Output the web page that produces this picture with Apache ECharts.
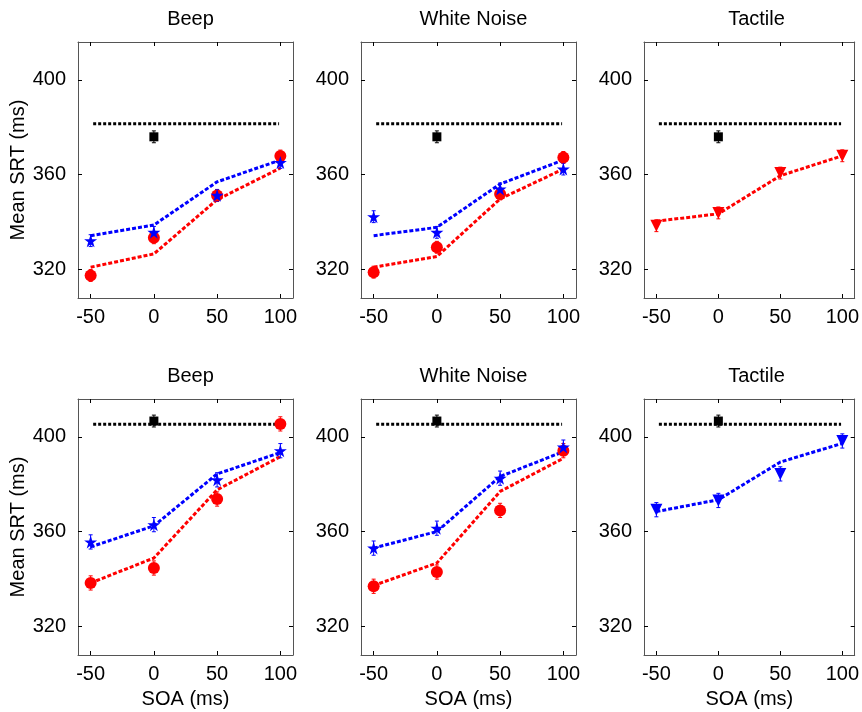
<!DOCTYPE html>
<html>
<head>
<meta charset="utf-8">
<script src="https://cdn.jsdelivr.net/npm/echarts@6/dist/echarts.min.js"></script>
<style>
  body { margin: 0; background: #fff; }
  #main { width: 862px; height: 712px; }
</style>
</head>
<body>
<div id="main"></div>
<script>
// SOA values (x) and tick labels
const soa = [-50, 0, 50, 100];
const xTicks = [-50, 0, 50, 100];
const yTicks = [320, 360, 400];
const panelTitles = ['Beep', 'White Noise', 'Tactile'];

// unimodal baseline (dotted line) and unimodal mean (square at SOA 0)
const baselineX = [-48, 99];
const baselineTop = 381.5;
const baselineBottom = 405.3;
const unimodalTop = 376;
const unimodalBottom = 406.7;

// top row: observed means (markers) and model fit (dashed lines)
const beepTopRedObs = [317.5, 333.4, 351.2, 367.9];
const beepTopRedFit = [321, 326.6, 349.5, 362.8];
const beepTopBlueObs = [332.2, 335.7, 351.3, 365.2];
const beepTopBlueFit = [334.3, 338.8, 357, 366.2];
const noiseTopRedObs = [318.9, 329.4, 351.9, 367.3];
const noiseTopRedFit = [321, 325.5, 349.8, 362.4];
const noiseTopBlueObs = [342.3, 335.7, 354, 362.4];
const noiseTopBlueFit = [334.3, 337.8, 356.1, 366.2];
const tactTopRedObs = [338.5, 343.9, 360.7, 368];
const tactTopRedFit = [340.4, 343.5, 359.6, 368];

// bottom row
const beepBotRedObs = [338.4, 344.7, 373.8, 405.5];
const beepBotRedFit = [338.4, 348.9, 377.7, 391.7];
const beepBotBlueObs = [355.7, 363, 381.9, 394.2];
const beepBotBlueFit = [353.6, 362.5, 384.4, 393.4];
const noiseBotRedObs = [337, 343, 369, 394.2];
const noiseBotRedFit = [337.3, 346.8, 377, 391];
const noiseBotBlueObs = [353.1, 361.5, 382.6, 395.7];
const noiseBotBlueFit = [353.1, 360.1, 383.3, 393.8];
const tactBotBlueObs = [369.3, 373.2, 384.4, 398.3];
const tactBotBlueFit = [368.5, 373.5, 389.4, 397.3];

// standard errors (error bars)
const errTop = [2.5, 2.5, 2.5, 2.5];
const errBottom = [3, 3, 3, 3];
const errUnimodal = 2.5;

const RED = '#ff0000', BLUE = '#0000ff';
const STAR = 'path://M50,0 L61,35 L98,35 L68,57 L79,91 L50,70 L21,91 L32,57 L2,35 L39,35 Z';
const FONT = 'Liberation Sans';
const FS = 20;

const plotLeft = [78, 361, 644];
const plotTop = [42, 399];
const plotW = 215, plotH = 256;

const panels = [
  { row: 0, col: 0, base: baselineTop, uni: unimodalTop, err: errTop, groups: [
    { color: RED, symbol: 'circle', size: 12, obs: beepTopRedObs, fit: beepTopRedFit },
    { color: BLUE, symbol: STAR, size: 13, obs: beepTopBlueObs, fit: beepTopBlueFit }] },
  { row: 0, col: 1, base: baselineTop, uni: unimodalTop, err: errTop, groups: [
    { color: RED, symbol: 'circle', size: 12, obs: noiseTopRedObs, fit: noiseTopRedFit },
    { color: BLUE, symbol: STAR, size: 13, obs: noiseTopBlueObs, fit: noiseTopBlueFit }] },
  { row: 0, col: 2, base: baselineTop, uni: unimodalTop, err: errTop, groups: [
    { color: RED, symbol: 'triangle', rotate: 180, size: 12, obs: tactTopRedObs, fit: tactTopRedFit }] },
  { row: 1, col: 0, base: baselineBottom, uni: unimodalBottom, err: errBottom, groups: [
    { color: RED, symbol: 'circle', size: 12, obs: beepBotRedObs, fit: beepBotRedFit },
    { color: BLUE, symbol: STAR, size: 13, obs: beepBotBlueObs, fit: beepBotBlueFit }] },
  { row: 1, col: 1, base: baselineBottom, uni: unimodalBottom, err: errBottom, groups: [
    { color: RED, symbol: 'circle', size: 12, obs: noiseBotRedObs, fit: noiseBotRedFit },
    { color: BLUE, symbol: STAR, size: 13, obs: noiseBotBlueObs, fit: noiseBotBlueFit }] },
  { row: 1, col: 2, base: baselineBottom, uni: unimodalBottom, err: errBottom, groups: [
    { color: BLUE, symbol: 'triangle', rotate: 180, size: 12, obs: tactBotBlueObs, fit: tactBotBlueFit }] }
];

function errorBars(color) {
  return function (params, api) {
    const x = api.value(0), y = api.value(1), e = api.value(2);
    const hi = api.coord([x, y + e]);
    const lo = api.coord([x, y - e]);
    const st = { stroke: color, lineWidth: 1 };
    return {
      type: 'group',
      children: [
        { type: 'line', shape: { x1: hi[0], y1: hi[1], x2: lo[0], y2: lo[1] }, style: st },
        { type: 'line', shape: { x1: hi[0] - 2, y1: hi[1], x2: hi[0] + 2, y2: hi[1] }, style: st },
        { type: 'line', shape: { x1: lo[0] - 2, y1: lo[1], x2: lo[0] + 2, y2: lo[1] }, style: st }
      ]
    };
  };
}

const frameColor = '#555';
const grid = [], xAxis = [], yAxis = [], series = [], title = [];

panels.forEach((p, i) => {
  const left = plotLeft[p.col], top = plotTop[p.row];
  grid.push({ left: left, top: top, width: plotW, height: plotH, show: false });
  title.push({
    text: panelTitles[p.col],
    left: left + plotW / 2, top: top - 38, textAlign: 'center',
    textStyle: { fontFamily: FONT, fontSize: FS, fontWeight: 'normal', color: '#000' }
  });
  const xa = {
    type: 'value', gridIndex: i, min: -60, max: 110,
    splitLine: { show: false },
    axisLine: { show: true, onZero: false, lineStyle: { color: frameColor, width: 1 } },
    axisTick: { show: true, inside: true, length: 4, customValues: xTicks, lineStyle: { color: '#000' } }
  };
  xAxis.push(Object.assign({}, xa, {
    position: 'bottom',
    name: p.row === 1 ? 'SOA (ms)' : '',
    nameLocation: 'middle', nameGap: 34,
    nameTextStyle: { fontFamily: FONT, fontSize: FS, color: '#000' },
    axisLabel: { show: true, customValues: xTicks, margin: 9, fontFamily: FONT, fontSize: FS, color: '#000' }
  }));
  xAxis.push(Object.assign({}, xa, { position: 'top', axisLabel: { show: false } }));
  const ya = {
    type: 'value', gridIndex: i, min: 308, max: 416,
    splitLine: { show: false },
    axisLine: { show: true, onZero: false, lineStyle: { color: frameColor, width: 1 } },
    axisTick: { show: true, inside: true, length: 4, customValues: yTicks, lineStyle: { color: '#000' } }
  };
  yAxis.push(Object.assign({}, ya, {
    position: 'left',
    name: p.col === 0 ? 'Mean SRT (ms)' : '',
    nameLocation: 'middle', nameGap: 48, nameRotate: 90,
    nameTextStyle: { fontFamily: FONT, fontSize: FS, color: '#000' },
    axisLabel: { show: true, customValues: yTicks, margin: 12, fontFamily: FONT, fontSize: FS, color: '#000' }
  }));
  yAxis.push(Object.assign({}, ya, { position: 'right', axisLabel: { show: false } }));

  const xi = i * 2, yi = i * 2;
  // baseline dotted line
  series.push({
    type: 'line', xAxisIndex: xi, yAxisIndex: yi, showSymbol: false, silent: true,
    data: baselineX.map(x => [x, p.base]),
    lineStyle: { color: '#000', width: 3, type: [3, 2] }
  });
  // unimodal mean
  series.push({
    type: 'custom', xAxisIndex: xi, yAxisIndex: yi, renderItem: errorBars('#000'),
    data: [[0, p.uni, errUnimodal]], z: 3
  });
  series.push({
    type: 'scatter', xAxisIndex: xi, yAxisIndex: yi, symbol: 'rect', symbolSize: 9,
    itemStyle: { color: '#000', opacity: 1 }, data: [[0, p.uni]], z: 4
  });
  p.groups.forEach(g => {
    series.push({
      type: 'line', xAxisIndex: xi, yAxisIndex: yi, showSymbol: false, silent: true,
      data: soa.map((x, k) => [x, g.fit[k]]),
      lineStyle: { color: g.color, width: 3, type: [4, 2] }, z: 2
    });
    series.push({
      type: 'custom', xAxisIndex: xi, yAxisIndex: yi, renderItem: errorBars(g.color),
      data: soa.map((x, k) => [x, g.obs[k], p.err[k]]), z: 3
    });
    series.push({
      type: 'scatter', xAxisIndex: xi, yAxisIndex: yi, symbol: g.symbol, symbolSize: g.size,
      symbolRotate: g.rotate || 0,
      itemStyle: { color: g.color, opacity: 1 }, data: soa.map((x, k) => [x, g.obs[k]]), z: 4
    });
  });
});

const chart = echarts.init(document.getElementById('main'));
chart.setOption({
  animation: false,
  backgroundColor: '#fff',
  title: title,
  grid: grid,
  xAxis: xAxis,
  yAxis: yAxis,
  series: series
});
</script>
</body>
</html>
